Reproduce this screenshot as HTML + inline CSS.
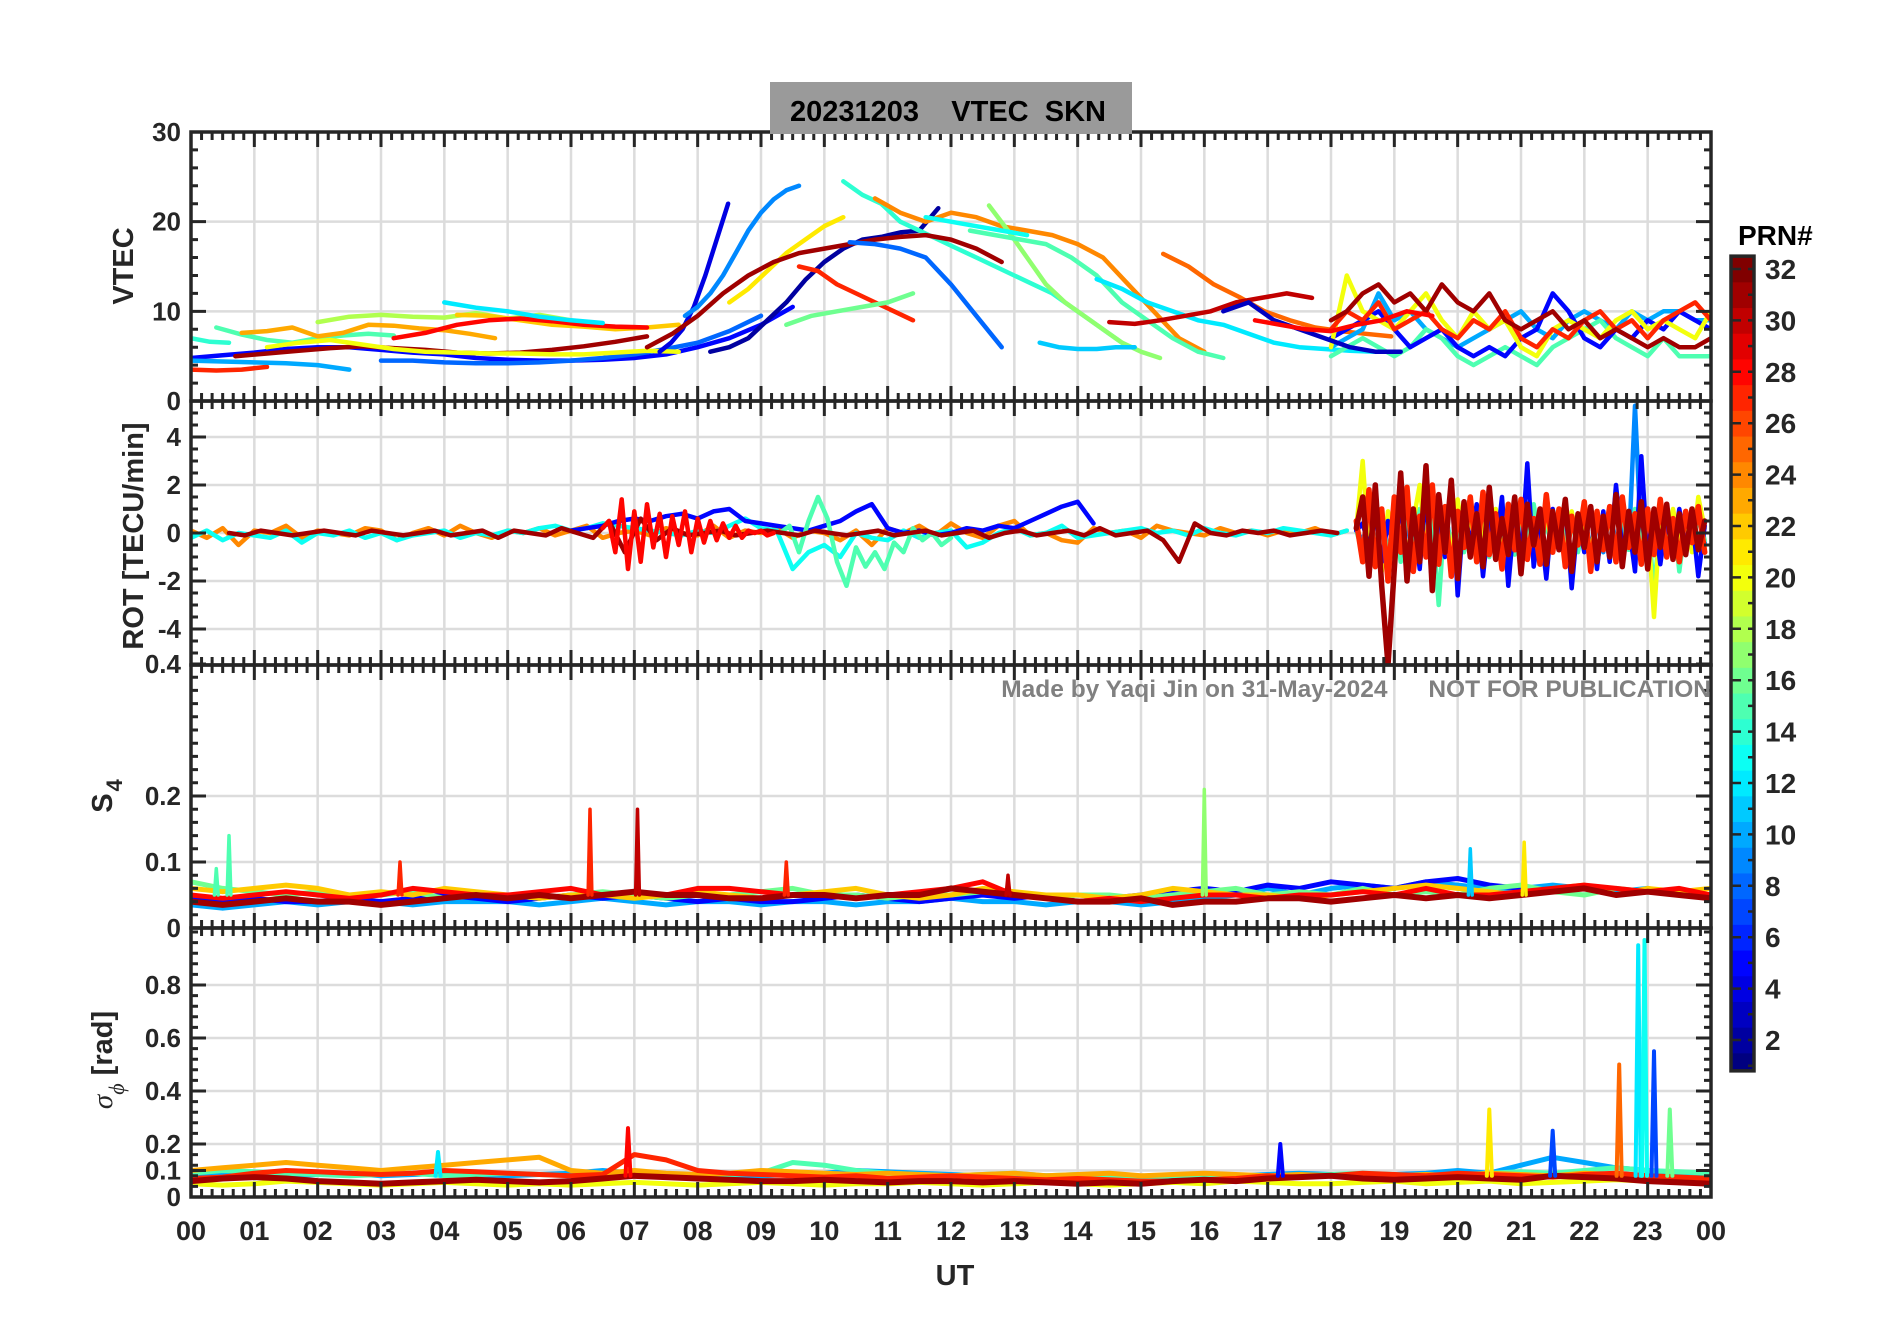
<!DOCTYPE html>
<html><head><meta charset="utf-8"><style>
html,body{margin:0;padding:0;background:#fff;}
svg{display:block;font-family:"Liberation Sans",Arial,sans-serif;}
</style></head><body>
<svg id="fig" width="1902" height="1330" viewBox="0 0 1902 1330" xmlns="http://www.w3.org/2000/svg">
<defs>
<clipPath id="c1"><rect x="191" y="132" width="1520" height="269"/></clipPath>
<clipPath id="c2"><rect x="191" y="401" width="1520" height="264"/></clipPath>
<clipPath id="c3"><rect x="191" y="665" width="1520" height="263"/></clipPath>
<clipPath id="c4"><rect x="191" y="928" width="1520" height="269"/></clipPath>
</defs>
<g id="grids"></g>
<g id="data"></g>
<g id="axes"></g>
<rect x="770" y="82" width="362" height="52" fill="#9a9a9a"/>
<text x="948" y="121" text-anchor="middle" font-size="29" font-weight="bold" fill="#000" xml:space="preserve">20231203    VTEC  SKN</text>
<text x="1711" y="697" text-anchor="end" font-size="24.5" font-weight="bold" fill="#808080" xml:space="preserve">Made by Yaqi Jin on 31-May-2024      NOT FOR PUBLICATION</text>
<text x="955" y="1285" text-anchor="middle" font-size="29" font-weight="bold" fill="#262626">UT</text>
<text transform="translate(133,266) rotate(-90)" text-anchor="middle" font-size="29" font-weight="bold" fill="#262626">VTEC</text>
<text transform="translate(143,536) rotate(-90)" text-anchor="middle" font-size="29" font-weight="bold" fill="#262626">ROT [TECU/min]</text>
<text transform="translate(112,796) rotate(-90)" text-anchor="middle" font-size="29" font-weight="bold" fill="#262626">S<tspan font-size="22" dy="10" dx="2">4</tspan></text>
<text transform="translate(112,1060) rotate(-90)" text-anchor="middle" font-size="29" font-weight="bold" fill="#262626"><tspan font-style="italic" font-weight="normal" font-family="Liberation Serif, serif">σ</tspan><tspan font-size="22" font-style="italic" font-weight="normal" font-family="Liberation Serif, serif" dy="12">ϕ</tspan><tspan dy="-12"> [rad]</tspan></text>
<text x="1738" y="245" font-size="28" font-weight="bold" fill="#000">PRN#</text>
<g id="cbar"></g>
</svg>
<script>
// ---- data ----
const hours = [0,1,2,3,4,5,6,7,8,9,10,11,12,13,14,15,16,17,18,19,20,21,22,23,24];
const hourLabels = ["00","01","02","03","04","05","06","07","08","09","10","11","12","13","14","15","16","17","18","19","20","21","22","23","00"];
const vtecTicks = [0,10,20,30];
const rotTicks = [-4,-2,0,2,4];
const rotTickLabels = ["-4","-2","0","2","4"];
const s4Ticks = [0,0.1,0.2,0.4];
const s4TickLabels = ["0","0.1","0.2","0.4"];
const sigTicks = [0,0.1,0.2,0.4,0.6,0.8];
const sigTickLabels = ["0","0.1","0.2","0.4","0.6","0.8"];
const cbarTicks = [2,4,6,8,10,12,14,16,18,20,22,24,26,28,30,32];

// VTEC arcs: prn, start hour, step, values
const vtecPrn = [5,31,27,10,8,14,15,23,18,20,22,28,12,4,9,2,14,21,31,24,17,15,12,25,30,27,16,8,13,11,10,15,5,20,27,31,3,28];
const vtecT0 = [0,0.7,0,0,3,0,0.4,0.8,2,1.2,4.2,3.2,4,7.4,7.8,8.2,10.3,8.5,7.2,10.8,12.6,12.3,14.3,15.35,14.5,9.6,9.4,10.4,11.6,13.4,18,18,18,18,18,18,16.3,16.8];
const vtecDt = [0.5,0.5,0.4,0.5,0.5,0.3,0.4,0.4,0.5,0.5,0.5,0.5,0.5,0.18,0.2,0.3,0.3,0.3,0.4,0.4,0.3,0.4,0.4,0.4,0.4,0.3,0.4,0.4,0.4,0.3,0.25,0.25,0.25,0.25,0.25,0.25,0.4,0.4];
const vtecVals = [
[4.8,5.1,5.4,5.8,6,6,5.7,5.4,5.2,4.8,4.6,4.5,4.5,4.6,4.8,5.2,6,7,8.5,10.5],
[5,5.3,5.6,5.9,6.1,5.9,5.7,5.4,5.3,5.4,5.7,6.1,6.6,7.2],
[3.5,3.4,3.5,3.8],
[4.5,4.4,4.3,4.2,4.0,3.5],
[4.5,4.5,4.3,4.2,4.2,4.3,4.5,4.8,5.2,5.8,6.5,7.8,9.5],
[7,6.6,6.5],
[8.2,7.4,6.8,6.5,7,7.3,7.5,7.3],
[7.6,7.8,8.2,7.2,7.6,8.5,8.4,8.1,7.9,7.5,7],
[8.8,9.4,9.6,9.4,9.3,9.8,9.2,9.6,9],
[6,6.5,6.8,6.3,5.8,5.5,5.4,5.3,5.3,5.2,5.2,5.4,5.6,5.5],
[9.6,9.5,9,8.5,8.3,8,8.2,8.5],
[7,7.6,8.5,9,9.2,8.9,8.5,8.3,8.2],
[11,10.4,10,9.4,9,8.7],
[5.5,6.5,8,10.5,14,18,22],
[9.5,10.5,12,14,16.5,19,21,22.5,23.5,24],
[5.5,6,7,9,11,13.5,15.5,17,18,18.3,18.8,19,21.5],
[24.5,23,22,20,19,18,17,16,15,14,13,12,10.5,9,7.5,6],
[11,12.5,14.5,16.5,18,19.5,20.5],
[6,7.5,9.5,12,14,15.5,16.5,17,17.5,18,18.3,18.5,18,17,15.5],
[22.6,21,20,21,20.5,19.5,19,18.5,17.5,16,13,10,7,5.5],
[21.8,19,16,13,11,9.5,8,6.5,5.5,4.8],
[19,18.5,18,17.5,16,14,11,9,7,5.5,4.8],
[13.6,12.5,11,10,9,8.5,7.5,6.5,6,5.8,5.6,5.5],
[16.4,15,13,11.6,10,9,8.2,7.8,7.5,7.2],
[8.8,8.6,9,9.5,10,11,11.5,12,11.5],
[15,14.5,13,12,11,10,9],
[8.5,9.5,10,10.5,11,12],
[17.7,17.5,17,16,13,9.5,6],
[20.5,20,19.5,19,18.5],
[6.5,6,5.8,5.8,6,6],
[6,7,8,12,9,10,8,7,6,7,8,9,10,8,7,9,10,9,8,10,9,10,10,9,9],
[5,6,7,6,5,6,8,7,5,4,5,6,5,4,6,7,8,9,7,6,5,7,5,5,5],
[7,8,9,10,8,6,7,8,6,5,6,5,7,8,12,10,7,6,8,7,9,8,10,9,8],
[6,14,10,9,8,10,12,9,7,10,8,9,6,5,8,9,8,7,9,10,8,9,8,7,10],
[8,10,9,11,8,9,10,8,7,9,8,10,7,6,8,7,9,10,8,9,7,9,10,11,9],
[9,10,12,13,11,12,10,13,11,10,12,9,8,9,10,8,9,7,8,7,6,7,6,6,7],
[10,11,9,8,7,6,5.5,5.5],
[9,8.5,8,7.8,8.5,9,10,9.5]
];

// ROT
const rotPrn = [24,13,5,15,31,28,9,15,20,5,27,31];
const rotT0 = [0,0,6,9.3,0.6,6.5,18.4,18.4,18.4,18.4,18.4,18.4];
const rotDt = [0.25,0.25,0.25,0.15,0.25,0.1,0.1,0.1,0.1,0.1,0.1,0.1];
const rotVals = [
[0.1,-0.2,0.2,-0.5,0.1,0,0.3,-0.2,0.1,0,-0.1,0.2,0.1,-0.3,0,0.2,-0.1,0.3,0,-0.2,0.1,0,0.2,-0.1,0.1,0.3,-0.2,0,0.1,-0.1,0.2,0,-0.1,0.3,-0.2,0.1,0,0.2,-0.2,0.1,0,-0.3,0.1,-0.5,0.2,0,0.3,-0.1,0.4,0,-0.2,0.3,0.5,-0.1,0,-0.3,-0.4,0.2,0,0.1,-0.2,0.3,0.1,0,-0.1,0.2,0,0.1,-0.1,0.1,0,0.2,-0.1,0.1],
[-0.2,0.1,-0.3,0,-0.1,-0.2,0.1,-0.4,0,-0.1,0.1,-0.2,0,-0.3,-0.1,0,0.1,-0.2,0,-0.1,0.1,0,0.2,0.3,0.1,0.2,0.4,0.3,0.2,0.1,0,-0.1,0.1,0,0.3,0.6,0.2,0.1,-1.5,-0.8,-0.5,-1.0,0,-0.2,-0.3,0.1,-0.2,0,0.1,-0.6,-0.4,0,0.2,-0.1,0,0.3,-0.2,-0.1,0,0.1,0.2,0,0.1,-0.1,0.2,0,-0.1,0.1,0,0.2,0.1,0,-0.1,0.1],
[0.1,0.2,0.3,0.5,0.6,0.5,0.7,0.8,0.6,0.9,1.0,0.5,0.4,0.3,0.2,0.1,0.3,0.5,0.9,1.2,0.2,0,0.1,-0.1,0,0.2,0.1,0.3,0.2,0.5,0.8,1.1,1.3,0.4],
[0,0.3,-0.8,0.5,1.5,0.6,-1.2,-2.2,-0.6,-1.4,-0.8,-1.5,-0.4,-0.8,0.2,-0.3,0,-0.5,-0.2],
[0,-0.1,0.1,0,-0.1,0,0.1,0,-0.1,0.1,0,-0.1,0,0.1,-0.1,0,0.1,-0.2,0.1,0,-0.1,0.2,0,-0.2,0.5,-0.8,0.6,-0.3,0.2,-0.1,0,0.1,-0.1,0,0.1,0,-0.1,0.1,0,-0.1,0,0.1,-0.1,0,0.1,-0.1,0,0.1,-0.2,0,0.1,-0.1,0,0.1,-0.1,0.2,-0.1,0,0.1,-0.3,-1.2,0.4,0,-0.1,0.1,0,0.1,-0.1,0,0.1,0],
[0.2,0.5,-0.8,1.4,-1.5,0.9,-1.2,1.2,-0.6,0.8,-1.0,0.7,-0.5,0.9,-0.8,0.6,-0.4,0.5,-0.3,0.4,-0.2,0.3,-0.2,0.1,0,0.1,-0.1,0],
[0.1,-0.3,0.5,-0.6,0.4,-0.9,0.7,-0.5,0.3,-0.8,0.6,-0.4,0.5,-0.7,0.9,-0.5,0.4,-0.6,0.7,-0.3,0.5,-0.8,0.6,-0.4,0.3,-0.5,0.7,-0.6,0.4,-0.5,0.8,-0.3,0.6,-0.9,0.5,-0.4,0.7,-0.6,0.5,-0.8,0.9,-0.4,0.6,-0.7,5.3,-0.5,0.8,-0.6,0.4,-0.5,0.7,-0.9,0.5,-0.3,0.6,-0.4],
[0.1,-0.8,0.5,-0.4,0.7,-0.9,0.6,-1.2,0.8,-0.5,1.0,-0.7,0.5,-3.0,0.9,-0.6,0.4,-0.8,1.1,-0.5,0.6,-1.0,0.7,-0.4,0.5,-0.9,0.8,-0.6,1.2,-0.5,0.4,-0.7,0.9,-0.4,0.6,-0.8,0.5,-1.1,0.7,-0.3,0.6,-0.9,0.4,-0.7,1.0,-0.5,0.8,-2.5,0.6,-0.4,0.9,-1.6,0.5,-0.7,0.8,-0.3],
[0.2,3.0,-0.8,1.2,-1.6,0.9,-0.7,1.1,-1.0,0.5,2.0,-0.6,1.8,-1.2,0.6,-0.9,1.4,-0.5,0.8,-1.1,0.4,-0.6,1.0,-0.8,0.5,-0.4,0.9,-1.0,0.6,-0.5,0.8,-0.7,0.4,-0.6,0.9,-0.5,0.3,-0.8,0.7,-0.4,0.6,-0.9,1.2,-0.5,0.4,-0.7,0.5,-3.5,0.8,-0.6,1.0,-0.4,0.6,-0.8,1.5,0.2],
[0.1,0.4,-0.6,0.8,-1.2,0.5,-0.9,1.4,-2.0,0.9,-1.5,1.8,-2.4,0.6,-1.0,2.2,-2.6,1.0,-0.5,1.2,-1.8,0.7,-0.9,1.5,-2.2,0.8,-1.1,2.9,-1.4,0.5,-1.9,1.0,-0.6,1.2,-2.3,0.6,-0.8,1.1,-1.5,0.9,-1.2,2.0,-0.7,0.4,-1.6,3.2,-1.0,0.8,-1.3,0.6,-0.9,1.0,-0.5,0.7,-1.8,0.3],
[0.5,-1.2,1.8,-1.4,1.0,-2.0,1.5,-0.8,1.9,-1.6,0.7,-1.0,2.0,-1.3,1.1,-1.8,0.9,-0.6,1.5,-1.2,1.7,-0.9,0.8,-1.5,1.2,-0.7,1.4,-1.1,0.6,-1.3,1.6,-0.8,1.0,-1.4,0.7,-0.5,1.3,-1.6,0.9,-0.7,1.1,-1.2,1.5,-0.6,0.8,-1.3,1.0,-0.9,1.4,-1.0,0.6,-1.2,0.9,-0.4,1.1,-0.8],
[0.2,1.5,-1.8,2.0,-2.2,-5.5,-1.5,2.5,-2.0,1.0,-1.2,2.8,-2.4,1.6,-0.8,2.2,-1.9,1.3,-1.0,0.8,-1.4,1.9,-1.1,0.6,-0.9,1.5,-1.7,1.2,-0.5,1.0,-1.3,0.9,-0.7,1.4,-1.6,0.8,-0.6,1.1,-1.2,0.7,-1.0,1.6,-1.4,0.9,-0.8,1.3,-1.5,1.0,-0.6,1.2,-1.1,0.8,-0.9,1.0,-0.7,0.5]
];

// S4 (step 0.5 h from 0)
const s4Prn = [10,5,16,22,28,31];
const s4Vals = [
[0.035,0.03,0.035,0.04,0.035,0.04,0.04,0.035,0.04,0.04,0.04,0.035,0.04,0.045,0.04,0.035,0.04,0.04,0.035,0.04,0.04,0.035,0.04,0.04,0.045,0.04,0.04,0.035,0.04,0.04,0.035,0.04,0.045,0.05,0.06,0.05,0.06,0.065,0.06,0.07,0.065,0.06,0.06,0.065,0.06,0.055,0.06,0.05,0.05],
[0.045,0.04,0.045,0.04,0.04,0.045,0.04,0.045,0.05,0.045,0.04,0.045,0.05,0.045,0.05,0.045,0.04,0.045,0.04,0.04,0.045,0.05,0.045,0.04,0.045,0.05,0.045,0.05,0.04,0.045,0.05,0.055,0.06,0.055,0.065,0.06,0.07,0.065,0.06,0.07,0.075,0.065,0.06,0.055,0.06,0.05,0.055,0.05,0.045],
[0.07,0.06,0.055,0.05,0.055,0.05,0.05,0.055,0.045,0.05,0.05,0.045,0.05,0.055,0.05,0.045,0.05,0.05,0.055,0.06,0.05,0.05,0.045,0.05,0.05,0.055,0.05,0.045,0.05,0.05,0.045,0.05,0.055,0.06,0.05,0.055,0.05,0.06,0.05,0.055,0.05,0.06,0.065,0.055,0.05,0.06,0.055,0.05,0.05],
[0.06,0.055,0.06,0.065,0.06,0.05,0.055,0.05,0.06,0.055,0.05,0.045,0.05,0.05,0.045,0.05,0.055,0.05,0.045,0.05,0.055,0.06,0.05,0.045,0.05,0.06,0.055,0.05,0.05,0.045,0.05,0.06,0.055,0.05,0.05,0.045,0.05,0.055,0.06,0.065,0.06,0.055,0.05,0.06,0.065,0.05,0.06,0.055,0.06],
[0.05,0.045,0.05,0.055,0.05,0.045,0.05,0.06,0.055,0.05,0.05,0.055,0.06,0.05,0.055,0.05,0.06,0.06,0.055,0.05,0.05,0.045,0.05,0.055,0.06,0.07,0.05,0.045,0.04,0.045,0.04,0.045,0.05,0.05,0.045,0.05,0.05,0.055,0.05,0.06,0.05,0.05,0.055,0.06,0.065,0.06,0.055,0.06,0.05],
[0.04,0.035,0.04,0.045,0.04,0.04,0.035,0.04,0.045,0.05,0.045,0.05,0.045,0.05,0.055,0.05,0.05,0.045,0.045,0.05,0.05,0.045,0.05,0.05,0.06,0.055,0.05,0.045,0.04,0.04,0.045,0.035,0.04,0.04,0.045,0.045,0.04,0.045,0.05,0.045,0.05,0.045,0.05,0.055,0.06,0.05,0.055,0.05,0.045]
];
const s4SpikeHour = [0.4,0.6,3.3,6.3,7.05,9.4,16,20.2,21.05,12.9];
const s4SpikeVal = [0.09,0.14,0.1,0.18,0.18,0.1,0.21,0.12,0.13,0.08];
const s4SpikePrn = [15,15,27,27,30,27,17,11,21,30];

// sigma phi (step 0.5 h from 0)
const sigPrn = [10,15,20,23,27,31];
const sigVals = [
[0.08,0.085,0.09,0.08,0.085,0.09,0.08,0.085,0.09,0.085,0.08,0.085,0.09,0.1,0.09,0.085,0.08,0.075,0.08,0.085,0.09,0.1,0.095,0.09,0.085,0.08,0.085,0.08,0.075,0.08,0.075,0.07,0.075,0.08,0.085,0.09,0.085,0.08,0.085,0.09,0.1,0.09,0.12,0.15,0.13,0.11,0.1,0.09,0.085],
[0.09,0.1,0.095,0.09,0.085,0.08,0.085,0.09,0.08,0.085,0.09,0.085,0.08,0.085,0.08,0.075,0.08,0.085,0.09,0.13,0.12,0.1,0.09,0.085,0.08,0.085,0.09,0.08,0.085,0.08,0.075,0.08,0.085,0.08,0.075,0.08,0.085,0.09,0.085,0.08,0.085,0.09,0.095,0.09,0.1,0.11,0.1,0.095,0.09],
[0.05,0.045,0.05,0.06,0.055,0.05,0.045,0.05,0.055,0.05,0.045,0.05,0.045,0.05,0.055,0.05,0.045,0.05,0.055,0.05,0.045,0.05,0.05,0.055,0.05,0.045,0.05,0.055,0.05,0.045,0.05,0.055,0.05,0.06,0.055,0.05,0.05,0.055,0.06,0.05,0.055,0.06,0.05,0.055,0.06,0.065,0.06,0.055,0.05],
[0.1,0.11,0.12,0.13,0.12,0.11,0.1,0.11,0.12,0.13,0.14,0.15,0.1,0.09,0.1,0.09,0.085,0.09,0.1,0.095,0.09,0.085,0.09,0.085,0.08,0.085,0.09,0.08,0.085,0.09,0.08,0.085,0.09,0.085,0.08,0.085,0.08,0.075,0.08,0.085,0.08,0.09,0.085,0.08,0.09,0.085,0.08,0.075,0.07],
[0.07,0.075,0.09,0.1,0.095,0.09,0.085,0.09,0.1,0.095,0.09,0.085,0.08,0.085,0.16,0.14,0.1,0.09,0.085,0.08,0.075,0.08,0.07,0.075,0.08,0.075,0.07,0.065,0.07,0.065,0.06,0.06,0.065,0.07,0.08,0.075,0.08,0.09,0.085,0.08,0.09,0.085,0.08,0.075,0.085,0.09,0.08,0.075,0.07],
[0.06,0.07,0.075,0.07,0.06,0.055,0.05,0.055,0.06,0.065,0.06,0.055,0.06,0.07,0.08,0.075,0.07,0.065,0.06,0.06,0.065,0.06,0.055,0.06,0.06,0.055,0.06,0.055,0.05,0.055,0.05,0.06,0.065,0.06,0.07,0.075,0.08,0.07,0.065,0.07,0.075,0.07,0.065,0.08,0.075,0.07,0.06,0.055,0.05]
];
const sigSpikeHour = [6.9,17.2,20.5,21.5,22.55,22.85,22.95,23.1,23.35,3.9];
const sigSpikeVal = [0.26,0.2,0.33,0.25,0.5,0.95,0.97,0.55,0.33,0.17];
const sigSpikePrn = [28,5,21,7,25,12,13,7,16,12];

// ---- geometry ----
const X0=191, X1=1711;
const xs = h => X0 + h*(X1-X0)/24;
const yV = v => 401 - v*(401-132)/30;
const yR = v => 533 - v*24;
const yS = v => 928 - v*660;
const yG = v => 1197 - v*265;
const NS="http://www.w3.org/2000/svg";

function jet(p){
  const t=(p-1)/31;
  const r=Math.max(0,Math.min(1,1.5-Math.abs(4*t-3)));
  const g=Math.max(0,Math.min(1,1.5-Math.abs(4*t-2)));
  const b=Math.max(0,Math.min(1,1.5-Math.abs(4*t-1)));
  return `rgb(${Math.round(r*255)},${Math.round(g*255)},${Math.round(b*255)})`;
}
function mk(tag,attrs,parent){const e=document.createElementNS(NS,tag);for(const k in attrs)e.setAttribute(k,attrs[k]);parent.appendChild(e);return e;}

const G=document.getElementById('grids'), D=document.getElementById('data'), A=document.getElementById('axes'), CB=document.getElementById('cbar');
const panels=[{t:132,b:401,y:yV,tk:vtecTicks,lab:vtecTicks.map(String),minor:[0,30,2],n:'vtec'},
{t:401,b:665,y:yR,tk:rotTicks,lab:rotTickLabels,minor:[-5.5,5.5,0.5],n:'rot'},
{t:665,b:928,y:yS,tk:s4Ticks,lab:s4TickLabels,minor:[0,0.4,0.02],n:'s4'},
{t:928,b:1197,y:yG,tk:sigTicks,lab:sigTickLabels,minor:[0,1,0.04],n:'sigma'}];

panels.forEach((P,pi)=>{
  hours.forEach(h=>{ if(h>0&&h<24){const l=mk('line',{x1:xs(h),x2:xs(h),y1:P.t,y2:P.b,stroke:'#dcdcdc','stroke-width':2.5},G);
    
    }});
  P.tk.forEach(v=>{const y=P.y(v); if(y>P.t+1&&y<P.b-1){const l=mk('line',{x1:X0,x2:X1,y1:y,y2:y,stroke:'#dcdcdc','stroke-width':2.5},G);
    
    }});
  const fr=mk('rect',{x:X0,y:P.t,width:X1-X0,height:P.b-P.t,fill:'none',stroke:'#262626','stroke-width':3.5},A);
  
  
  let d='';
  for(let m=0;m<=144;m++){const x=xs(m/6);const L=(m%6===0)?15:8;d+=`M${x},${P.t}v${L}M${x},${P.b}v${-L}`;}
  for(let v=P.minor[0];v<=P.minor[1]+1e-9;v+=P.minor[2]){const y=P.y(v);if(y<P.t-0.5||y>P.b+0.5)continue;d+=`M${X0},${y}h7M${X1},${y}h-7`;}
  P.tk.forEach(v=>{const y=P.y(v);d+=`M${X0},${y}h15M${X1},${y}h-15`;});
  const tp=mk('path',{d:d,stroke:'#262626','stroke-width':3,fill:'none'},A);
  
  
  P.tk.forEach((v,i)=>{const y=P.y(v);const t=mk('text',{x:X0-10,y:y+9,'text-anchor':'end','font-size':26,'font-weight':'bold',fill:'#262626'},A);t.textContent=P.lab[i];
    
    });
});
hours.forEach((h,i)=>{const t=mk('text',{x:xs(h),y:1240,'text-anchor':'middle','font-size':27,'font-weight':'bold',fill:'#262626'},A);t.textContent=hourLabels[i];
  
  });

function drawLine(pts,prn,clip,w,name){
  const e=mk('polyline',{points:pts.map(p=>p[0].toFixed(1)+','+p[1].toFixed(1)).join(' '),fill:'none',stroke:jet(prn),'stroke-width':w,'stroke-linejoin':'round','stroke-linecap':'round','clip-path':`url(#${clip})`},D);
  
  
}
vtecVals.forEach((vals,i)=>{drawLine(vals.map((v,k)=>[xs(vtecT0[i]+k*vtecDt[i]),yV(v)]),vtecPrn[i],'c1',4.5,'vtec-arc-prn'+vtecPrn[i]);});
rotVals.forEach((vals,i)=>{drawLine(vals.map((v,k)=>[xs(rotT0[i]+k*rotDt[i]),yR(v)]),rotPrn[i],'c2',i>=10?5.5:4.5,'rot-series-prn'+rotPrn[i]);});
s4Vals.forEach((vals,i)=>{drawLine(vals.map((v,k)=>[xs(k*0.5),yS(v)]),s4Prn[i],'c3',i===5?6:5,'s4-series-prn'+s4Prn[i]);});
s4SpikeHour.forEach((h,i)=>{drawLine([[xs(h-0.03),yS(0.05)],[xs(h),yS(s4SpikeVal[i])],[xs(h+0.03),yS(0.05)]],s4SpikePrn[i],'c3',3.5,'s4-spike-prn'+s4SpikePrn[i]);});
sigVals.forEach((vals,i)=>{drawLine(vals.map((v,k)=>[xs(k*0.5),yG(v)]),sigPrn[i],'c4',i===5?6:5,'sigma-series-prn'+sigPrn[i]);});
sigSpikeHour.forEach((h,i)=>{drawLine([[xs(h-0.04),yG(0.08)],[xs(h),yG(sigSpikeVal[i])],[xs(h+0.04),yG(0.08)]],sigSpikePrn[i],'c4',4,'sigma-spike-prn'+sigSpikePrn[i]);});

// colorbar
const cbY = v => 1040-(v-2)*25.7;
const cbTop=cbY(32.5), cbBot=cbY(0.8);
for(let p=1;p<=32;p++){
  const y1=p===1?cbBot:cbY(p-0.5), y2=p===32?cbTop:cbY(p+0.5);
  const r=mk('rect',{x:1731,y:y2,width:23,height:y1-y2+0.5,fill:jet(p)},CB);
  
  
}
const cf=mk('rect',{x:1731,y:cbTop,width:23,height:cbBot-cbTop,fill:'none',stroke:'#262626','stroke-width':3.5},CB);


let cd='';
for(let p=1;p<=32;p++){cd+=`M1754,${cbY(p)}h-6`;}
cbarTicks.forEach(v=>{cd+=`M1731,${cbY(v)}h10`;});
const ctp=mk('path',{d:cd,stroke:'#262626','stroke-width':2.5},CB);


cbarTicks.forEach(v=>{const t=mk('text',{x:1765,y:cbY(v)+10,'font-size':28,'font-weight':'bold',fill:'#262626'},CB);t.textContent=String(v);
  
  });
</script>
</body></html>
